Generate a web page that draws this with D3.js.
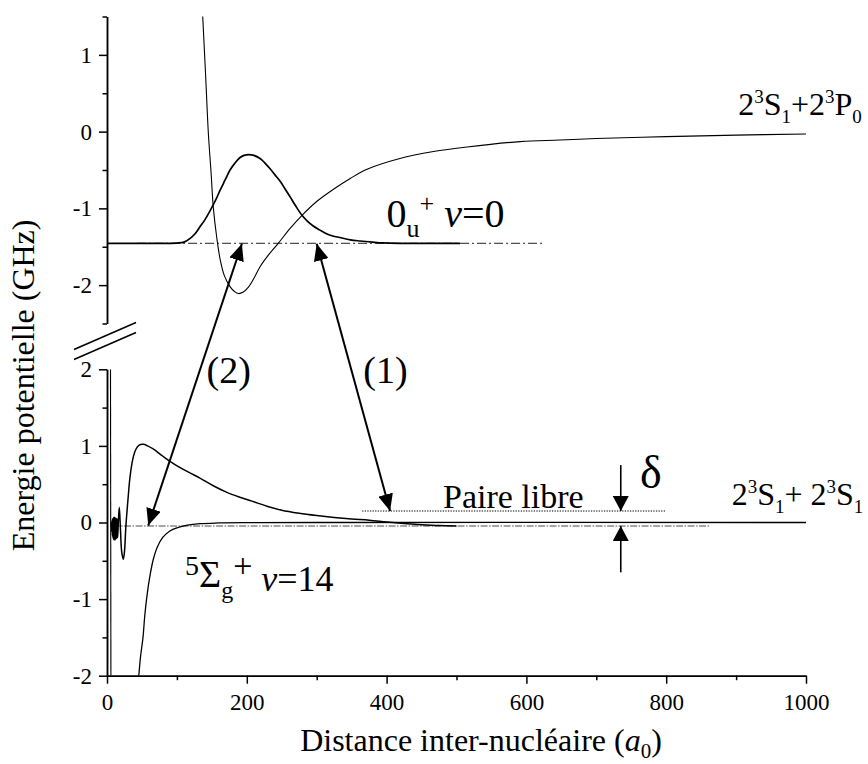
<!DOCTYPE html>
<html><head><meta charset="utf-8">
<script src="https://cdn.jsdelivr.net/npm/d3@7"></script>
</head><body style="margin:0;background:#fff">
<svg id="c" width="868" height="764"></svg>
<script>
// ---------- data ----------
const xTicksMajor = [0, 200, 400, 600, 800, 1000];
const xTicksMinor = [100, 300, 500, 700, 900];
const yTopTicksMajor = [1, 0, -1, -2];
const yTopTicksMinor = [1.5, 0.5, -0.5, -1.5, -2.5];
const yBotTicksMajor = [2, 1, 0, -1, -2];
const yBotTicksMinor = [1.5, 0.5, -0.5, -1.5];

// upper potential 0u+ (R in a0, E in GHz)
const upperPotential = [[134,2.05],[137,1.49],[141,0.75],[145,-0.02],[149,-0.55],[152,-0.98],[157,-1.38],[162,-1.67],[168,-1.88],[176,-2.02],[182,-2.08],[188,-2.11],[195,-2.09],[202,-2.03],[209,-1.93],[219,-1.76],[230,-1.62],[245,-1.455],[262,-1.26],[279,-1.09],[300,-0.91],[324,-0.75],[348,-0.61],[372,-0.49],[419,-0.35],[467,-0.26],[515,-0.20],[591,-0.13],[648,-0.11],[700,-0.09],[800,-0.065],[900,-0.045],[1000,-0.03]];

// upper wavefunction (0u+ v=0), drawn about its level
const upperWave = [[0,-1.455],[50,-1.455],[100,-1.452],[110,-1.44],[119,-1.39],[126,-1.33],[133,-1.24],[140,-1.15],[147,-1.04],[155,-0.90],[162,-0.76],[169,-0.63],[176,-0.50],[183,-0.41],[190,-0.34],[196,-0.31],[203,-0.30],[210,-0.31],[219,-0.35],[226,-0.41],[233,-0.48],[240,-0.56],[248,-0.65],[255,-0.75],[262,-0.85],[270,-0.97],[279,-1.09],[287,-1.17],[295,-1.23],[304,-1.28],[314,-1.33],[323,-1.36],[333,-1.38],[348,-1.41],[362,-1.425],[380,-1.44],[395,-1.45],[419,-1.455],[505,-1.455]];
const upperLevelE = -1.455;
const upperLevelR = [43, 624];

// lower potential 5Σg+ : inner wall and outer branch
const lowerWall = [[5.0,2.0],[5.6,-2.0]];
const lowerPotential = [[45.5,-2.0],[48,-1.75],[51.5,-1.5],[54,-1.22],[57,-0.97],[61,-0.72],[66,-0.49],[72,-0.32],[80,-0.19],[90,-0.11],[100,-0.07],[115,-0.035],[133,-0.015],[160,-0.006],[200,-0.002],[300,0],[1000,0]];

// lower wavefunction (5Σg+ v=14)
const lowerWave = [[6.0,-0.05],[6.4,0.0],[6.8,-0.12],[7.2,0.03],[7.6,-0.17],[8.0,0.05],[8.4,-0.2],[8.8,0.06],[9.2,-0.22],[9.6,0.07],[10.0,-0.23],[10.4,0.07],[10.8,-0.23],[11.2,0.07],[11.6,-0.23],[12.0,0.06],[12.5,-0.22],[13.0,0.06],[13.6,-0.21],[14.3,0.05],[15.2,-0.2],[16.3,0.02],[17.6,0.2],[19.3,-0.1],[21,-0.38],[23.3,-0.48],[25,-0.38],[27,-0.05],[30,0.3],[33,0.6],[37,0.83],[41,0.95],[46,1.01],[52,1.02],[58,1.0],[66,0.96],[75,0.9],[85,0.83],[95,0.77],[104,0.72],[118,0.65],[133,0.58],[152,0.48],[170,0.40],[190,0.33],[210,0.27],[230,0.21],[250,0.16],[275,0.12],[300,0.09],[325,0.065],[350,0.045],[375,0.03],[400,0.008],[425,-0.012],[450,-0.028],[475,-0.04],[500,-0.045]];
const lowerLevelE = -0.045;
const lowerLevelR = [8, 862];

// free pair level
const freePairE = 0.15;
const freePairR = [365, 800];

// transitions: [R, E] on upper panel and lower panel
const arrow2Lower = [59, -0.04];
const arrow2Upper = [193, -1.46];
const arrow1Upper = [300, -1.46];
const arrow1Lower = [405, 0.15];
const deltaR = 735;
const deltaDown = [0.75, 0.15];
const deltaUp = [-0.65, -0.045];

// ---------- layout ----------
const FONT = '"Liberation Serif", serif';
const svg = d3.select('#c');
const x = d3.scaleLinear().domain([0, 1000]).range([107, 806]);
const yT = d3.scaleLinear().domain([-2.5, 1.5]).range([323.5, 16.5]);
const yB = d3.scaleLinear().domain([-2, 2]).range([675.7, 369.3]);

const defs = svg.append('defs');
defs.append('clipPath').attr('id','clipT').append('rect')
  .attr('x', x(0)).attr('y', yT(1.5)).attr('width', x(1000)-x(0)).attr('height', yT(-2.5)-yT(1.5));
defs.append('clipPath').attr('id','clipB').append('rect')
  .attr('x', x(0)).attr('y', yB(2)).attr('width', x(1000)-x(0)).attr('height', yB(-2)-yB(2));
function marker(id, len, w){
  defs.append('marker').attr('id', id).attr('markerUnits','userSpaceOnUse')
    .attr('markerWidth', len).attr('markerHeight', w).attr('refX', len).attr('refY', w/2)
    .attr('orient','auto-start-reverse')
    .append('path').attr('d', `M0,0L${len},${w/2}L0,${w}Z`).attr('fill','#000');
}
marker('ah', 17, 15);
marker('ahd', 15, 16);

// ---------- axes ----------
function styleAxis(g, fs){
  g.attr('font-family', null).attr('font-size', null);
  g.selectAll('path,line').attr('stroke','#000').attr('stroke-width',1.5);
  g.selectAll('text').attr('fill','#000').style('font-family', FONT).style('font-size', fs + 'px');
}
const fmt = d => d < 0 ? '-' + Math.abs(d) : String(d);
[[yT, yTopTicksMajor, yTopTicksMinor],[yB, yBotTicksMajor, yBotTicksMinor]].forEach(([s, maj, min]) => {
  const g1 = svg.append('g').attr('transform', `translate(${x(0)},0)`)
    .call(d3.axisLeft(s).tickValues(maj).tickSize(8).tickSizeOuter(0).tickPadding(7).tickFormat(fmt));
  styleAxis(g1, 23);
  const g2 = svg.append('g').attr('transform', `translate(${x(0)},0)`)
    .call(d3.axisLeft(s).tickValues(min).tickSize(4.5).tickSizeOuter(0).tickFormat(''));
  styleAxis(g2, 23);
});
const gx1 = svg.append('g').attr('transform', `translate(0,${yB(-2)})`)
  .call(d3.axisBottom(x).tickValues(xTicksMajor).tickSize(8).tickSizeOuter(0).tickPadding(10).tickFormat(d3.format('d')));
styleAxis(gx1, 23);
const gx2 = svg.append('g').attr('transform', `translate(0,${yB(-2)})`)
  .call(d3.axisBottom(x).tickValues(xTicksMinor).tickSize(4.5).tickSizeOuter(0).tickFormat(''));
styleAxis(gx2, 23);

// axis break marks
const bx0 = x(0) - 33, bx1 = x(0) + 29, yMid = (yT(-2.5) + yB(2)) / 2;
[-5, 5].forEach(o => {
  svg.append('line').attr('x1', bx0).attr('y1', yMid + o + 8).attr('x2', bx1).attr('y2', yMid + o - 19)
    .attr('stroke','#000').attr('stroke-width',1.6);
});

// axis titles
svg.append('text').attr('transform', `translate(33.5,${yMid+39}) rotate(-90)`)
  .attr('text-anchor','middle').style('font-size','32px').style('font-family', FONT).text('Energie potentielle (GHz)');
const xt = svg.append('text').attr('x', 481).attr('y', 751).attr('text-anchor','middle').style('font-size','32px').style('font-family', FONT);
xt.append('tspan').text('Distance inter-nucléaire (');
xt.append('tspan').attr('font-style','italic').text('a');
xt.append('tspan').style('font-size','21px').attr('dy',7).text('0');
xt.append('tspan').attr('dy',-7).text(')');

// ---------- curves ----------
const lineT = d3.line().x(d => x(d[0])).y(d => yT(d[1])).curve(d3.curveCatmullRom.alpha(0.5));
const lineB = d3.line().x(d => x(d[0])).y(d => yB(d[1])).curve(d3.curveCatmullRom.alpha(0.5));
const gT = svg.append('g').attr('clip-path','url(#clipT)');
const gB = svg.append('g').attr('clip-path','url(#clipB)');

gT.append('line').attr('x1', x(upperLevelR[0])).attr('x2', x(upperLevelR[1]))
  .attr('y1', yT(upperLevelE)).attr('y2', yT(upperLevelE))
  .attr('stroke','#222').attr('stroke-width',1).attr('stroke-dasharray','9,3,2,3');
gT.append('path').attr('d', lineT(upperPotential)).attr('fill','none').attr('stroke','#000').attr('stroke-width',1.1);
gT.append('path').attr('d', lineT(upperWave)).attr('fill','none').attr('stroke','#000').attr('stroke-width',1.7);

gB.append('line').attr('x1', x(lowerLevelR[0])).attr('x2', x(lowerLevelR[1]))
  .attr('y1', yB(lowerLevelE)).attr('y2', yB(lowerLevelE))
  .attr('stroke','#888').attr('stroke-width',1.5).attr('stroke-dasharray','7,1.5,1.5,1.5');
gB.append('line').attr('x1', x(freePairR[0])).attr('x2', x(freePairR[1]))
  .attr('y1', yB(freePairE)).attr('y2', yB(freePairE))
  .attr('stroke','#000').attr('stroke-width',1).attr('stroke-dasharray','1.3,1.3');
gB.append('path').attr('d', d3.line().x(d => x(d[0])).y(d => yB(d[1]))(lowerWall)).attr('fill','none').attr('stroke','#000').attr('stroke-width',1.1);
gB.append('path').attr('d', lineB(lowerPotential)).attr('fill','none').attr('stroke','#000').attr('stroke-width',1.3);
gB.append('path').attr('d', lineB(lowerWave)).attr('fill','none').attr('stroke','#000').attr('stroke-width',1.5);

// ---------- arrows ----------
function arrow(x1,y1,x2,y2,m,w,both){
  const l = svg.append('line').attr('x1',x1).attr('y1',y1).attr('x2',x2).attr('y2',y2)
    .attr('stroke','#000').attr('stroke-width',w).attr('marker-end',`url(#${m})`);
  if (both) l.attr('marker-start',`url(#${m})`);
}
arrow(x(arrow2Lower[0]), yB(arrow2Lower[1]), x(arrow2Upper[0]), yT(arrow2Upper[1]), 'ah', 2, true);
arrow(x(arrow1Upper[0]), yT(arrow1Upper[1]), x(arrow1Lower[0]), yB(arrow1Lower[1]), 'ah', 2, true);
arrow(x(deltaR), yB(deltaDown[0]), x(deltaR), yB(deltaDown[1]), 'ahd', 1.6, false);
arrow(x(deltaR), yB(deltaUp[0]), x(deltaR), yB(deltaUp[1]), 'ahd', 1.6, false);

// ---------- labels ----------
function rich(px, py, parts){
  const t = svg.append('text').attr('x', px).attr('y', py).style('font-family', FONT);
  let cur = 0;
  parts.forEach(p => {
    const o = p.o || 0;
    const ts = t.append('tspan').attr('dy', o - cur).style('font-size', p.s + 'px').style('font-family', FONT).text(p.t);
    if (p.i) ts.style('font-style','italic');
    cur = o;
  });
  return t;
}
rich(x(903), yT(0.216), [{t:'2',s:32},{t:'3',s:19,o:-12},{t:'S',s:32},{t:'1',s:19,o:8},{t:'+2',s:32},{t:'3',s:19,o:-12},{t:'P',s:32},{t:'0',s:19,o:8}]);
rich(x(893.6), yB(0.228), [{t:'2',s:32},{t:'3',s:19,o:-12},{t:'S',s:32},{t:'1',s:19,o:8},{t:'+\u00a02',s:32},{t:'3',s:19,o:-12},{t:'S',s:32},{t:'1',s:19,o:8}]);
rich(x(400), yT(-1.24), [{t:'0',s:40},{t:'u',s:26,o:10},{t:'+',s:26,o:-15},{t:'\u00a0',s:40},{t:'v',s:40,i:true},{t:'=0',s:40}]);
rich(x(111.6), yB(-0.844), [{t:'5',s:28,o:-12},{t:'Σ',s:38},{t:'g',s:24,o:11},{t:'+',s:34,o:-10},{t:'\u00a0',s:36,o:4},{t:'v',s:36,o:4,i:true},{t:'=14',s:36,o:4}]);
rich(x(142.5), yB(1.817), [{t:'(2)',s:38}]);
rich(x(366.6), yB(1.817), [{t:'(1)',s:38}]);
rich(x(480.7), yB(0.19), [{t:'Paire libre',s:34}]);
rich(x(762.5), yB(0.45), [{t:'δ',s:46}]);
</script>
</body></html>
